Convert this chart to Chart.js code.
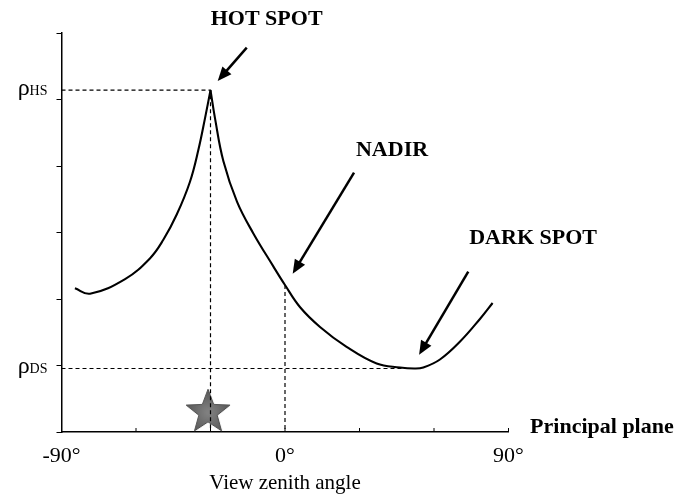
<!DOCTYPE html>
<html>
<head>
<meta charset="utf-8">
<script src="https://cdn.jsdelivr.net/npm/chart.js@4.4.1/dist/chart.umd.min.js"></script>
<style>
  html, body { margin: 0; padding: 0; background: #fff; }
</style>
</head>
<body>
<canvas id="brdf" width="682" height="496"></canvas>
<script>
// reflectance along the principal plane, split at the hot spot so the cusp stays sharp
const leftAngles  = [-84.6, -78.5, -64.4, -54.4, -49.0, -43.6, -38.3, -34.9, -32.2, -30];
const leftRefl    = [2.16, 2.08, 2.30, 2.61, 2.89, 3.27, 3.76, 4.24, 4.72, 5.14];
const rightAngles = [-30, -28.2, -24.8, -19.3, -12.8, -4.7, 0, 6.0, 14.1, 24.8, 36.9, 46.3, 52, 55.7, 62.4, 70.5, 78.5, 83.6];
const rightRefl   = [5.14, 4.72, 4.07, 3.46, 2.99, 2.49, 2.21, 1.88, 1.58, 1.28, 1.03, 0.97, 0.955, 0.97, 1.09, 1.36, 1.70, 1.94];

const hotSpotAngle = -30, rhoHS = 5.14;
const darkSpotAngle = 52, rhoDS = 0.955;
const nadirRefl = rightRefl[rightAngles.indexOf(0)];
const sunAngle = -31, sunMarkY = 0.33;

const xLabelAngles = [-90, 0, 90];

// callouts (data coordinates)
const callouts = [
  { text: 'HOT SPOT', at: [-7.4, 6.21], align: 'center' },
  { text: 'NADIR', at: [43.1, 4.24], align: 'center' },
  { text: 'DARK SPOT', at: [99.9, 2.92], align: 'center' },
  { text: 'Principal plane', at: [98.7, 0.075], align: 'left' }
];
const arrows = [
  { from: [-15.4, 5.78], to: [-27.1, 5.28] },
  { from: [27.8, 3.90], to: [3.1, 2.38] },
  { from: [73.8, 2.41], to: [54.0, 1.16] }
];
const rhoLabels = [ { sub: 'HS', value: rhoHS }, { sub: 'DS', value: rhoDS } ];

const SERIF = '"Liberation Serif", "Times New Roman", serif';
const toXY = (xs, ys) => xs.map((v, i) => ({ x: v, y: ys[i] }));

// grey five-pointed star for the sun position
function makeStar(r) {
  const size = Math.ceil(r * 2 + 4);
  const c = document.createElement('canvas');
  c.width = size; c.height = size;
  const g = c.getContext('2d');
  const cx = size / 2, cy = size / 2 + 0.0955 * r, ri = r * 0.42;
  g.beginPath();
  for (let i = 0; i < 10; i++) {
    const a = -Math.PI / 2 + i * Math.PI / 5, rr = i % 2 ? ri : r;
    g.lineTo(cx + rr * Math.cos(a), cy + rr * Math.sin(a));
  }
  g.closePath();
  const grad = g.createRadialGradient(cx, cy, 2, cx, cy, r);
  grad.addColorStop(0, '#808080');
  grad.addColorStop(1, '#575757');
  g.fillStyle = grad;
  g.fill();
  g.strokeStyle = '#4d4d4d';
  g.lineWidth = 1;
  g.stroke();
  return c;
}

const curve = { borderColor: '#000', borderWidth: 2.1, pointRadius: 0, tension: 0.4 };
const dashed = { borderColor: '#000', borderWidth: 1.2, borderDash: [4, 3], pointRadius: 0, fill: false, tension: 0 };

const annotate = {
  id: 'annotate',
  afterDraw(chart) {
    const { ctx, scales: { x, y }, chartArea } = chart;
    ctx.save();
    ctx.strokeStyle = '#000';
    ctx.fillStyle = '#000';

    // inward ticks on the angle axis
    ctx.lineWidth = 1;
    x.ticks.forEach(t => {
      const px = x.getPixelForValue(t.value);
      ctx.beginPath();
      ctx.moveTo(px, chartArea.bottom);
      ctx.lineTo(px, chartArea.bottom - 4);
      ctx.stroke();
    });

    arrows.forEach(a => {
      const x0 = x.getPixelForValue(a.from[0]), y0 = y.getPixelForValue(a.from[1]);
      const x1 = x.getPixelForValue(a.to[0]), y1 = y.getPixelForValue(a.to[1]);
      const ang = Math.atan2(y1 - y0, x1 - x0), head = 14, half = 6;
      const bx = x1 - head * Math.cos(ang), by = y1 - head * Math.sin(ang);
      ctx.lineWidth = 2.5;
      ctx.beginPath();
      ctx.moveTo(x0, y0);
      ctx.lineTo(bx + Math.cos(ang), by + Math.sin(ang));
      ctx.stroke();
      ctx.beginPath();
      ctx.moveTo(x1, y1);
      ctx.lineTo(bx + half * Math.sin(ang), by - half * Math.cos(ang));
      ctx.lineTo(bx - half * Math.sin(ang), by + half * Math.cos(ang));
      ctx.closePath();
      ctx.fill();
    });

    ctx.font = 'bold 22px ' + SERIF;
    ctx.textBaseline = 'middle';
    callouts.forEach(c => {
      ctx.textAlign = c.align;
      ctx.fillText(c.text, x.getPixelForValue(c.at[0]), y.getPixelForValue(c.at[1]));
    });

    // rho labels beside the y axis
    ctx.textBaseline = 'alphabetic';
    ctx.textAlign = 'left';
    rhoLabels.forEach(l => {
      const py = y.getPixelForValue(l.value) + 5;
      ctx.font = '14px ' + SERIF;
      const wSub = ctx.measureText(l.sub).width;
      ctx.font = '24px ' + SERIF;
      const wRho = ctx.measureText('ρ').width;
      const right = chartArea.left - 14;
      ctx.fillText('ρ', right - wSub - wRho, py);
      ctx.font = '14px ' + SERIF;
      ctx.fillText(l.sub, right - wSub, py);
    });
    ctx.restore();
  }
};

new Chart(document.getElementById('brdf'), {
  type: 'line',
  data: {
    datasets: [
      { ...curve, data: toXY(leftAngles, leftRefl) },
      { ...curve, data: toXY(rightAngles, rightRefl) },
      { ...dashed, data: [{ x: -90, y: rhoHS }, { x: hotSpotAngle, y: rhoHS }, { x: hotSpotAngle, y: 0 }] },
      { ...dashed, data: [{ x: 0, y: nadirRefl }, { x: 0, y: 0 }] },
      { ...dashed, data: [{ x: -90, y: rhoDS }, { x: darkSpotAngle, y: rhoDS }] },
      { data: [{ x: sunAngle, y: sunMarkY }], showLine: false, pointStyle: makeStar(23), pointRadius: 20 }
    ]
  },
  options: {
    responsive: false,
    animation: false,
    layout: { padding: { top: 33, right: 173.5, left: 0, bottom: 0 } },
    plugins: { legend: { display: false }, tooltip: { enabled: false } },
    scales: {
      x: {
        type: 'linear', min: -90, max: 90,
        afterFit: s => { s.height = 64; },
        border: { color: '#000', width: 1.5 },
        grid: { drawOnChartArea: false, drawTicks: false },
        ticks: {
          stepSize: 30, autoSkip: false, maxRotation: 0, padding: 11, color: '#000',
          font: { family: SERIF, size: 22 },
          callback: v => xLabelAngles.includes(v) ? v + '°' : ''
        },
        title: { display: true, text: 'View zenith angle', color: '#000', font: { family: SERIF, size: 21 }, padding: 0 }
      },
      y: {
        min: 0, max: 6,
        afterFit: s => { s.width = 61.5; },
        border: { color: '#000', width: 1.5 },
        grid: { drawOnChartArea: false, tickLength: 5, color: '#000' },
        ticks: { display: false, stepSize: 1 }
      }
    }
  },
  plugins: [annotate]
});
</script>
</body>
</html>
